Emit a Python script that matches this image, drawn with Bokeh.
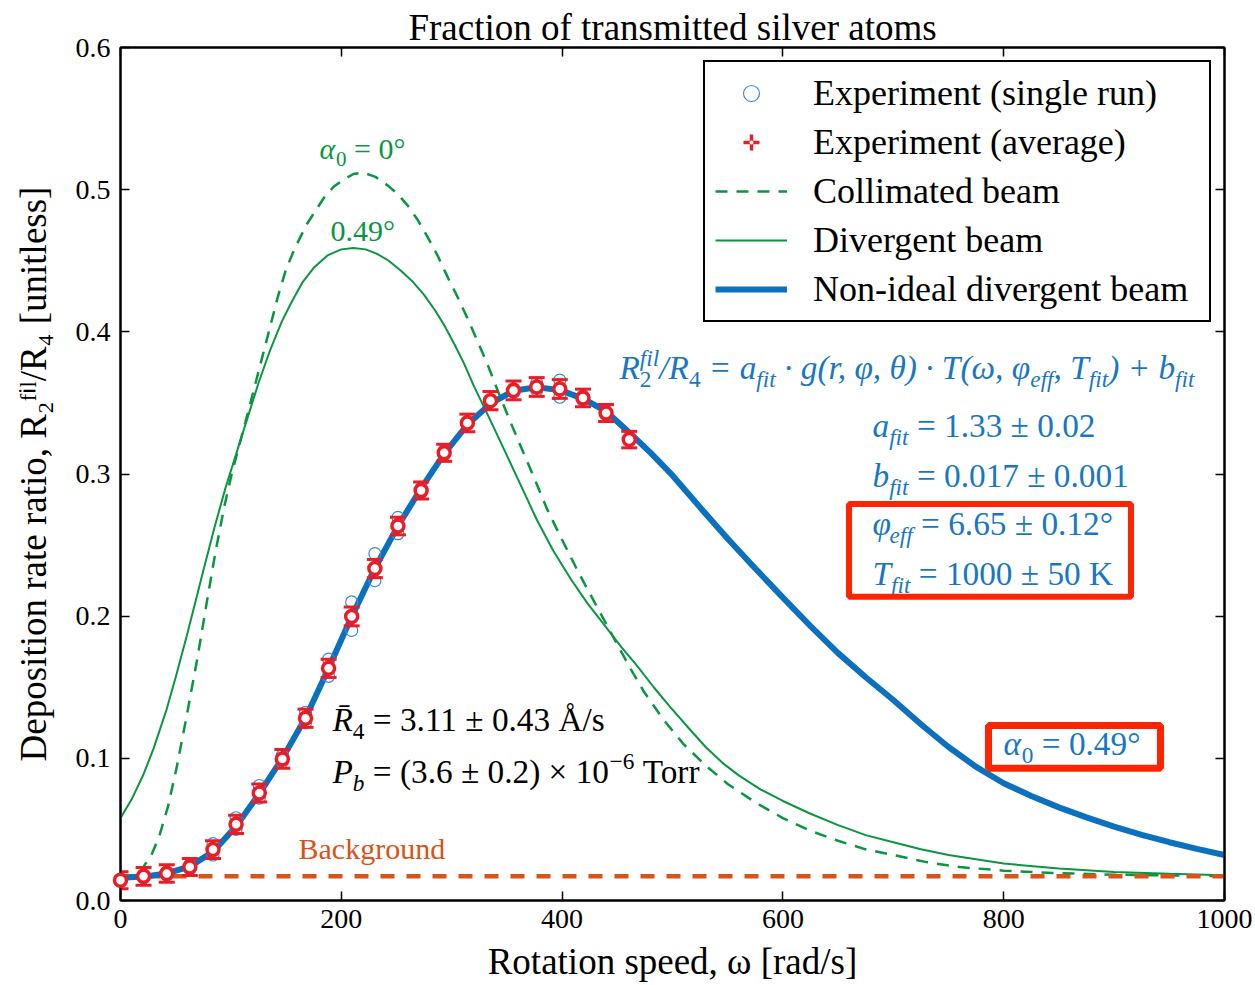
from bokeh.plotting import figure
from bokeh.models import (Range1d, FixedTicker, PrintfTickFormatter, LinearAxis, Label,
                          BoxAnnotation, Whisker, TeeHead, ColumnDataSource, Legend, LegendItem)
from bokeh.embed import file_html
from bokeh.resources import INLINE

# ---------------- data ----------------
omega_avg = [0.0, 20.9, 41.9, 62.8, 83.8, 104.7, 125.7, 146.6, 167.6, 188.5, 209.4, 230.4,
             251.3, 272.3, 293.2, 314.2, 335.1, 356.0, 377.0, 397.9, 418.9, 439.8, 460.8]
ratio_avg = [0.0142, 0.0170, 0.0190, 0.0236, 0.0358, 0.0536, 0.0756, 0.0996, 0.1282, 0.1633,
             0.1998, 0.2335, 0.2634, 0.2884, 0.3149, 0.3359, 0.3516, 0.3588, 0.3612, 0.3598,
             0.3535, 0.3429, 0.3242]
err_avg = [0.0060, 0.0062, 0.0062, 0.0060, 0.0062, 0.0064, 0.0064, 0.0066, 0.0064, 0.0064,
           0.0066, 0.0064, 0.0062, 0.0060, 0.0060, 0.0062, 0.0064, 0.0066, 0.0066, 0.0066,
           0.0062, 0.0060, 0.0058]
run_a = [0.0150, 0.0180, 0.0200, 0.0250, 0.0400, 0.0582, 0.0809, 0.1020, 0.1324, 0.1698,
         0.2100, 0.2440, 0.2695, 0.2900, 0.3165, 0.3370, 0.3520, 0.3600, 0.3640, 0.3660,
         0.3550, 0.3440, 0.3245]
run_b = [0.0135, 0.0160, 0.0180, 0.0222, 0.0320, 0.0500, 0.0720, 0.0975, 0.1250, 0.1577,
         0.1900, 0.2250, 0.2580, 0.2870, 0.3135, 0.3350, 0.3510, 0.3575, 0.3590, 0.3540,
         0.3520, 0.3420, 0.3240]

omega_fit = [0, 21, 42, 63, 84, 105, 126, 147, 168, 188, 209, 230, 251, 272, 293, 314, 335,
             356, 377, 398, 419, 440, 461, 480, 500, 525, 550, 575, 600, 625, 650, 675, 700,
             725, 750, 775, 800, 825, 850, 875, 900, 925, 950, 975, 1000]
ratio_fit = [0.0160, 0.0168, 0.0190, 0.0240, 0.0345, 0.0525, 0.0755, 0.1005, 0.1290, 0.1625,
             0.1990, 0.2330, 0.2630, 0.2895, 0.3140, 0.3345, 0.3495, 0.3585, 0.3610, 0.3590,
             0.3530, 0.3440, 0.3290, 0.3150, 0.2990, 0.2765, 0.2545, 0.2335, 0.2130, 0.1930,
             0.1740, 0.1570, 0.1410, 0.1240, 0.1080, 0.0940, 0.0825, 0.0735, 0.0655, 0.0585,
             0.0520, 0.0462, 0.0410, 0.0363, 0.0320]

omega_div = [0, 10, 21, 30, 42, 50, 60, 75, 85, 95, 110, 125, 135, 146, 155, 165, 175, 188,
             200, 211, 222, 232, 243, 254, 265, 275, 285, 293, 302, 311, 320, 330, 347, 362,
             377, 392, 408, 423, 438, 453, 468, 483, 498, 515, 530, 545, 560, 580, 600, 625,
             650, 675, 700, 725, 750, 775, 800, 850, 900, 950, 1000]
ratio_div = [0.058, 0.071, 0.089, 0.107, 0.135, 0.157, 0.186, 0.232, 0.262, 0.290, 0.327,
             0.364, 0.386, 0.407, 0.421, 0.435, 0.445, 0.454, 0.458, 0.459, 0.458, 0.455,
             0.450, 0.443, 0.435, 0.426, 0.415, 0.405, 0.392, 0.378, 0.362, 0.346, 0.318,
             0.293, 0.268, 0.246, 0.226, 0.209, 0.194, 0.179, 0.165, 0.150, 0.136, 0.121,
             0.108, 0.097, 0.088, 0.078, 0.070, 0.061, 0.053, 0.046, 0.041, 0.036, 0.032,
             0.029, 0.026, 0.0225, 0.0200, 0.0188, 0.0178]

omega_col = [0, 10, 15, 21, 28, 35, 43, 51, 60, 70, 78, 86, 94, 101, 113, 120, 128, 136, 143,
             150, 158, 169, 184, 193, 202, 211, 220, 231, 242, 251, 260, 269, 278, 287, 296,
             305, 314, 323, 332, 342, 353, 365, 377, 386, 396, 405, 414, 423, 432, 441, 450,
             462, 474, 492, 510, 530, 550, 575, 600, 625, 650, 675, 700, 730, 760, 800, 850,
             900, 950, 1000]
ratio_col = [0.017, 0.017, 0.0175, 0.024, 0.032, 0.045, 0.066, 0.094, 0.130, 0.172, 0.209,
             0.245, 0.277, 0.301, 0.336, 0.357, 0.381, 0.405, 0.426, 0.444, 0.459, 0.476,
             0.494, 0.502, 0.507, 0.511, 0.512, 0.509, 0.503, 0.497, 0.489, 0.479, 0.467,
             0.454, 0.439, 0.425, 0.410, 0.394, 0.378, 0.358, 0.337, 0.315, 0.293, 0.276,
             0.260, 0.246, 0.232, 0.219, 0.206, 0.193, 0.180, 0.163, 0.147, 0.127, 0.110,
             0.095, 0.082, 0.069, 0.058, 0.049, 0.042, 0.036, 0.032, 0.027, 0.0235, 0.0210,
             0.0192, 0.0182, 0.0176, 0.0172]

omega_bg = [0, 1000]
ratio_bg = [0.017, 0.017]

x_ticks = [0, 200, 400, 600, 800, 1000]
y_ticks = [0.0, 0.1, 0.2, 0.3, 0.4, 0.5, 0.6]

# ---------------- style ----------------
SERIF = "Liberation Serif"
BLUE = "#0b70bd"
BLUE_TXT = "#1877c4"
BLUE_PT = "#3d8ad6"
RED = "#ec1c24"
BOX_RED = "#ff2400"
GREEN = "#0a9640"
ORANGE = "#d95319"

W, H = 1254, 984
FL, FT, FW, FH = 120, 47, 1104, 855   # frame in page pixels
BASE_FIX = 0.33                        # baseline correction (fraction of font size)


def X(px):
    return (px - FL) / FW * 1000.0


def Y(py):
    return (FT + FH - py) / FH * 0.6


p = figure(width=W, height=H, x_range=Range1d(0, 1000), y_range=Range1d(0, 0.6),
           output_backend="svg", toolbar_location=None,
           min_border_left=FL, min_border_right=W - FL - FW,
           min_border_top=FT, min_border_bottom=H - FT - FH)
p.xgrid.visible = False
p.ygrid.visible = False
p.outline_line_color = "black"
p.outline_line_width = 2
p.background_fill_color = "white"
p.border_fill_color = "white"

p.title.text = "Fraction of transmitted silver atoms"
p.title.align = "center"
p.title.text_font = SERIF
p.title.text_font_size = "37px"
p.title.text_font_style = "normal"
p.title.text_color = "black"
p.title.standoff = 0

p.xaxis.ticker = FixedTicker(ticks=x_ticks)
p.yaxis.ticker = FixedTicker(ticks=y_ticks)
p.yaxis.formatter = PrintfTickFormatter(format="%.1f")
for ax in (p.xaxis[0], p.yaxis[0]):
    ax.major_tick_in = 9
    ax.major_tick_out = 0
    ax.major_tick_line_width = 1.5
    ax.minor_tick_line_color = None
    ax.axis_line_width = 2
    ax.major_label_text_font = SERIF
    ax.major_label_text_font_size = "28px"
    ax.major_label_text_color = "black"
    ax.axis_label_text_font = SERIF
    ax.axis_label_text_font_style = "normal"
    ax.axis_label_text_color = "black"
p.yaxis.major_label_standoff = 10
p.xaxis.major_label_standoff = 9
p.xaxis.axis_label = "Rotation speed, ω [rad/s]"
p.xaxis.axis_label_text_font_size = "37px"
p.xaxis.axis_label_standoff = 10
p.yaxis.axis_label = "Deposition rate ratio, R₂ᶠⁱˡ/R₄ [unitless]"
p.yaxis.axis_label_text_font_size = "37px"
p.yaxis.axis_label_standoff = 19

for side, tick in (("above", x_ticks), ("right", y_ticks)):
    ax = LinearAxis(ticker=FixedTicker(ticks=tick), major_tick_in=9, major_tick_out=0,
                    major_tick_line_width=1.5, minor_tick_line_color=None, axis_line_width=2,
                    major_label_text_font_size="0px", major_label_standoff=0)
    ax.major_label_overrides = {t: "" for t in tick}
    p.add_layout(ax, side)

# ---------------- curves ----------------
r_col = p.line(omega_col, ratio_col, line_color=GREEN, line_width=2.5, line_dash="12 9")
r_div = p.line(omega_div, ratio_div, line_color=GREEN, line_width=2)
r_bg = p.line(omega_bg, ratio_bg, line_color=ORANGE, line_width=4.5, line_dash="14 12")
r_fit = p.line(omega_fit, ratio_fit, line_color=BLUE, line_width=6)

r_run_a = p.scatter(omega_avg, run_a, marker="circle", size=12, line_color=BLUE_PT,
                    line_width=1.2, fill_color=None)
r_run_b = p.scatter(omega_avg, run_b, marker="circle", size=12, line_color=BLUE_PT,
                    line_width=1.2, fill_color=None)

src_avg = ColumnDataSource(dict(
    x=omega_avg, y=ratio_avg,
    upper=[v + e for v, e in zip(ratio_avg, err_avg)],
    lower=[v - e for v, e in zip(ratio_avg, err_avg)]))
# cross + white dot: hidden under the averaged circles, used as legend symbol
r_cross = p.scatter("x", "y", source=src_avg, marker="cross", size=12, line_color=RED,
                    line_width=3.5)
r_dot = p.scatter("x", "y", source=src_avg, marker="dot", size=12, line_color="white",
                  fill_color="white", line_width=1)
wh = Whisker(source=src_avg, base="x", upper="upper", lower="lower", dimension="height",
             line_color=RED, line_width=3,
             upper_head=TeeHead(size=16, line_color=RED, line_width=3),
             lower_head=TeeHead(size=16, line_color=RED, line_width=3))
wh.level = "glyph"
p.add_layout(wh)
r_avg = p.scatter("x", "y", source=src_avg, marker="circle", size=12, line_color=RED,
                  line_width=3.5, fill_color="white")
r_avg.level = "annotation"

legend = Legend(items=[
    LegendItem(label="Experiment (single run)", renderers=[r_run_a]),
    LegendItem(label="Experiment (average)", renderers=[r_cross, r_dot]),
    LegendItem(label="Collimated beam", renderers=[r_col]),
    LegendItem(label="Divergent beam", renderers=[r_div]),
    LegendItem(label="Non-ideal divergent beam", renderers=[r_fit]),
], location=(703 - FL, FT + FH - 324), glyph_width=72, glyph_height=40, label_height=40,
    label_width=386, label_standoff=26, spacing=7, padding=10, margin=0,
    border_line_color="black", border_line_width=2, border_line_alpha=1.0,
    background_fill_color="white", background_fill_alpha=1.0,
    label_text_font=SERIF, label_text_font_size="36px", label_text_color="black")
p.add_layout(legend)

# ---------------- texts inside the frame ----------------
ROMAN = {' ': 250, '(': 333, ')': 333, '+': 564, ',': 250, '-': 333, '.': 250, '/': 278,
         '=': 564, '[': 333, ']': 333, '°': 400, '±': 564, '×': 564, '·': 250, '−': 564,
         'Å': 722, 'K': 722, 'T': 611, 'D': 722, 'R': 667,
         'a': 444, 'b': 500, 'c': 444, 'd': 500, 'e': 444, 'f': 333, 'g': 500, 'h': 500,
         'i': 278, 'j': 278, 'k': 500, 'l': 278, 'm': 778, 'n': 500, 'o': 500, 'p': 500,
         'q': 500, 'r': 333, 's': 389, 't': 278, 'u': 500, 'v': 500, 'w': 722, 'x': 500,
         'y': 500, 'z': 444}
for d in "0123456789":
    ROMAN[d] = 500
ITAL = {' ': 250, '(': 333, ')': 333, '+': 675, ',': 250, '/': 278, '=': 675, '·': 250,
        'a': 500, 'b': 500, 'e': 444, 'f': 278, 'g': 500, 'i': 278, 'l': 278, 'r': 389,
        't': 278, 'R': 611, 'P': 611, 'T': 556, 'φ': 510, 'θ': 500, 'ω': 680, 'α': 550,
        '\u0304': 0}


def tw(s, italic):
    tbl = ITAL if italic else ROMAN
    return sum(tbl.get(c, 500) for c in s) / 1000.0


def rich(parts, x0, base, size, color):
    adv = 0.0
    for part in parts:
        txt, it, lvl = part[:3]
        stack = len(part) > 3 and part[3]
        fs = size * (0.7 if lvl else 1.0)
        off = {0: 0.0, -1: 0.24 * size, 1: -0.40 * size}[lvl]
        lead = len(txt) - len(txt.lstrip(' '))
        adv += lead * 0.25 * fs
        txt = txt.lstrip(' ')
        p.add_layout(Label(x=X(x0 + adv), y=Y(base + off - BASE_FIX * fs), text=txt,
                           text_font=SERIF, text_font_style="italic" if it else "normal",
                           text_font_size=f"{fs:.1f}px", text_color=color,
                           text_align="left", text_baseline="alphabetic"))
        if not stack:
            adv += tw(txt, it) * fs
        else:
            adv -= lead * 0.25 * fs


# green curve labels
rich([("α", True, 0), ("0", False, -1), (" = 0°", False, 0)], 319, 158, 30, GREEN)
rich([("0.49°", False, 0)], 330, 240, 30, GREEN)

# fit equation and parameters
S = 33.3
rich([("R", True, 0), ("2", False, -1, True), ("fil", True, 1), ("/R", True, 0),
      ("4", False, -1), (" = a", True, 0), ("fit", True, -1),
      (" · g(r, φ, θ) · T(ω, φ", True, 0), ("eff", True, -1), (", T", True, 0),
      ("fit", True, -1), (") + b", True, 0), ("fit", True, -1)], 619, 379, S, BLUE_TXT)
rich([("a", True, 0), ("fit", True, -1), (" = 1.33 ± 0.02", False, 0)], 872, 437, S, BLUE_TXT)
rich([("b", True, 0), ("fit", True, -1), (" = 0.017 ± 0.001", False, 0)], 872, 487, S, BLUE_TXT)
rich([("φ", True, 0), ("eff", True, -1), (" = 6.65 ± 0.12°", False, 0)], 872, 535, S, BLUE_TXT)
rich([("T", True, 0), ("fit", True, -1), (" = 1000 ± 50 K", False, 0)], 872, 585, S, BLUE_TXT)
rich([("α", True, 0), ("0", False, -1), (" = 0.49°", False, 0)], 1003, 756, S, BLUE_TXT)

# red highlight boxes
p.add_layout(BoxAnnotation(left=X(848.5), right=X(1130.5), top=Y(504.5), bottom=Y(597.5),
                           fill_color=None, fill_alpha=0, line_color=BOX_RED, line_alpha=1.0,
                           line_width=6))
p.add_layout(BoxAnnotation(left=X(988), right=X(1160), top=Y(726.5), bottom=Y(769.5),
                           fill_color=None, fill_alpha=0, line_color=BOX_RED, line_alpha=1.0,
                           line_width=7))

# experimental conditions
rich([("R\u0304", True, 0), ("4", False, -1), (" = 3.11 ± 0.43 Å/s", False, 0)],
     332, 732, S, "black")
rich([("P", True, 0), ("b", True, -1), (" = (3.6 ± 0.2) × 10", False, 0), ("−6", False, 1),
      (" Torr", False, 0)], 332, 784, S, "black")

# background label
rich([("Background", False, 0)], 298, 860, 30, ORANGE)

open("out.html", "w").write(file_html(p, INLINE, "Fraction of transmitted silver atoms"))
